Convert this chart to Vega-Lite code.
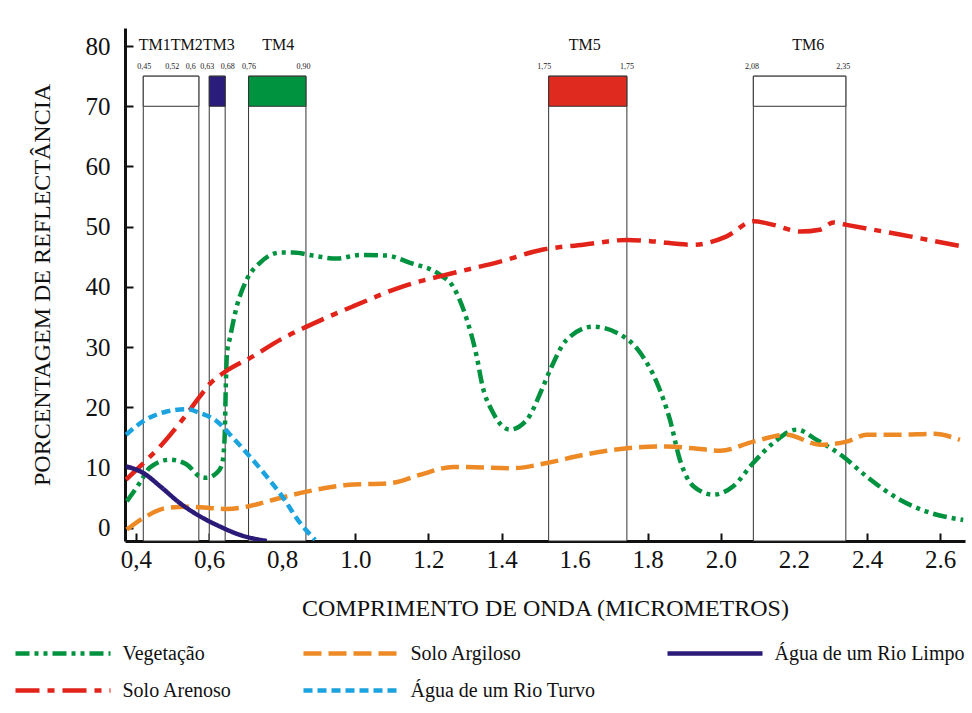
{
  "$schema": "https://vega.github.io/schema/vega-lite/v6.json",
  "width": 840,
  "height": 513,
  "autosize": {"type": "none"},
  "padding": {"left": 125, "top": 28, "right": 7, "bottom": 172},
  "background": "white",
  "config": {"view": {"stroke": null}, "font": "Liberation Serif"},
  "datasets": {
    "bands": [
      {"band": "TM1TM2", "start": 0.420, "end": 0.572, "top": 75, "split": 70},
      {"band": "TM3", "start": 0.6005, "end": 0.644, "top": 75, "split": 70},
      {"band": "TM4", "start": 0.708, "end": 0.865, "top": 75, "split": 70},
      {"band": "TM5", "start": 1.529, "end": 1.743, "top": 75, "split": 70},
      {"band": "TM6", "start": 2.089, "end": 2.342, "top": 75, "split": 70}
    ],
    "tmlabels": [
      {"x": 0.539, "y": 80.2, "label": "TM1TM2TM3"},
      {"x": 0.789, "y": 80.2, "label": "TM4"},
      {"x": 1.628, "y": 80.2, "label": "TM5"},
      {"x": 2.239, "y": 80.2, "label": "TM6"}
    ],
    "numlabels": [
      {"x": 0.423, "y": 76.5, "label": "0,45"},
      {"x": 0.499, "y": 76.5, "label": "0,52"},
      {"x": 0.550, "y": 76.5, "label": "0,6"},
      {"x": 0.595, "y": 76.5, "label": "0,63"},
      {"x": 0.651, "y": 76.5, "label": "0,68"},
      {"x": 0.709, "y": 76.5, "label": "0,76"},
      {"x": 0.858, "y": 76.5, "label": "0,90"},
      {"x": 1.517, "y": 76.5, "label": "1,75"},
      {"x": 1.743, "y": 76.5, "label": "1,75"},
      {"x": 2.085, "y": 76.5, "label": "2,08"},
      {"x": 2.335, "y": 76.5, "label": "2,35"}
    ],
    "curves": [
      {"series": "Vegetação", "x": 0.375, "y": 4.4},
      {"series": "Vegetação", "x": 0.411, "y": 7.5},
      {"series": "Vegetação", "x": 0.438, "y": 10.0},
      {"series": "Vegetação", "x": 0.493, "y": 11.3},
      {"series": "Vegetação", "x": 0.539, "y": 10.5},
      {"series": "Vegetação", "x": 0.575, "y": 8.5},
      {"series": "Vegetação", "x": 0.593, "y": 8.3},
      {"series": "Vegetação", "x": 0.621, "y": 9.1},
      {"series": "Vegetação", "x": 0.634, "y": 10.3},
      {"series": "Vegetação", "x": 0.640, "y": 12.5},
      {"series": "Vegetação", "x": 0.643, "y": 15.7},
      {"series": "Vegetação", "x": 0.646, "y": 24.1},
      {"series": "Vegetação", "x": 0.649, "y": 29.0},
      {"series": "Vegetação", "x": 0.657, "y": 31.5},
      {"series": "Vegetação", "x": 0.676, "y": 36.8},
      {"series": "Vegetação", "x": 0.703, "y": 41.2},
      {"series": "Vegetação", "x": 0.739, "y": 44.0},
      {"series": "Vegetação", "x": 0.794, "y": 45.7},
      {"series": "Vegetação", "x": 0.830, "y": 45.7},
      {"series": "Vegetação", "x": 0.884, "y": 45.2},
      {"series": "Vegetação", "x": 0.949, "y": 44.7},
      {"series": "Vegetação", "x": 1.013, "y": 45.3},
      {"series": "Vegetação", "x": 1.086, "y": 45.2},
      {"series": "Vegetação", "x": 1.150, "y": 44.0},
      {"series": "Vegetação", "x": 1.232, "y": 42.0},
      {"series": "Vegetação", "x": 1.267, "y": 40.1},
      {"series": "Vegetação", "x": 1.305, "y": 34.6},
      {"series": "Vegetação", "x": 1.332, "y": 28.5},
      {"series": "Vegetação", "x": 1.347, "y": 23.8},
      {"series": "Vegetação", "x": 1.377, "y": 19.1},
      {"series": "Vegetação", "x": 1.423, "y": 16.3},
      {"series": "Vegetação", "x": 1.469, "y": 17.9},
      {"series": "Vegetação", "x": 1.514, "y": 23.5},
      {"series": "Vegetação", "x": 1.533, "y": 26.2},
      {"series": "Vegetação", "x": 1.578, "y": 31.2},
      {"series": "Vegetação", "x": 1.651, "y": 33.4},
      {"series": "Vegetação", "x": 1.715, "y": 32.4},
      {"series": "Vegetação", "x": 1.779, "y": 29.1},
      {"series": "Vegetação", "x": 1.825, "y": 24.1},
      {"series": "Vegetação", "x": 1.861, "y": 17.9},
      {"series": "Vegetação", "x": 1.888, "y": 11.3},
      {"series": "Vegetação", "x": 1.925, "y": 6.9},
      {"series": "Vegetação", "x": 1.979, "y": 5.5},
      {"series": "Vegetação", "x": 2.034, "y": 6.9},
      {"series": "Vegetação", "x": 2.089, "y": 10.8},
      {"series": "Vegetação", "x": 2.144, "y": 14.1},
      {"series": "Vegetação", "x": 2.208, "y": 16.3},
      {"series": "Vegetação", "x": 2.262, "y": 14.6},
      {"series": "Vegetação", "x": 2.335, "y": 11.8},
      {"series": "Vegetação", "x": 2.399, "y": 8.5},
      {"series": "Vegetação", "x": 2.490, "y": 4.65},
      {"series": "Vegetação", "x": 2.572, "y": 2.5},
      {"series": "Vegetação", "x": 2.663, "y": 1.3},

      {"series": "Solo Arenoso", "x": 0.373, "y": 8.0},
      {"series": "Solo Arenoso", "x": 0.411, "y": 10.2},
      {"series": "Solo Arenoso", "x": 0.466, "y": 13.5},
      {"series": "Solo Arenoso", "x": 0.520, "y": 17.4},
      {"series": "Solo Arenoso", "x": 0.575, "y": 21.8},
      {"series": "Solo Arenoso", "x": 0.602, "y": 23.9},
      {"series": "Solo Arenoso", "x": 0.639, "y": 25.7},
      {"series": "Solo Arenoso", "x": 0.721, "y": 28.5},
      {"series": "Solo Arenoso", "x": 0.794, "y": 31.2},
      {"series": "Solo Arenoso", "x": 0.867, "y": 33.4},
      {"series": "Solo Arenoso", "x": 0.995, "y": 36.8},
      {"series": "Solo Arenoso", "x": 1.131, "y": 40.1},
      {"series": "Solo Arenoso", "x": 1.268, "y": 42.3},
      {"series": "Solo Arenoso", "x": 1.396, "y": 44.2},
      {"series": "Solo Arenoso", "x": 1.514, "y": 46.2},
      {"series": "Solo Arenoso", "x": 1.624, "y": 47.0},
      {"series": "Solo Arenoso", "x": 1.743, "y": 47.8},
      {"series": "Solo Arenoso", "x": 1.806, "y": 47.6},
      {"series": "Solo Arenoso", "x": 1.925, "y": 47.0},
      {"series": "Solo Arenoso", "x": 2.016, "y": 48.4},
      {"series": "Solo Arenoso", "x": 2.089, "y": 50.9},
      {"series": "Solo Arenoso", "x": 2.144, "y": 50.3},
      {"series": "Solo Arenoso", "x": 2.217, "y": 49.2},
      {"series": "Solo Arenoso", "x": 2.271, "y": 49.5},
      {"series": "Solo Arenoso", "x": 2.308, "y": 50.7},
      {"series": "Solo Arenoso", "x": 2.344, "y": 50.3},
      {"series": "Solo Arenoso", "x": 2.490, "y": 48.7},
      {"series": "Solo Arenoso", "x": 2.663, "y": 46.7},

      {"series": "Solo Argiloso", "x": 0.375, "y": -0.3},
      {"series": "Solo Argiloso", "x": 0.420, "y": 1.6},
      {"series": "Solo Argiloso", "x": 0.484, "y": 3.3},
      {"series": "Solo Argiloso", "x": 0.539, "y": 3.5},
      {"series": "Solo Argiloso", "x": 0.602, "y": 3.3},
      {"series": "Solo Argiloso", "x": 0.648, "y": 3.1},
      {"series": "Solo Argiloso", "x": 0.703, "y": 3.5},
      {"series": "Solo Argiloso", "x": 0.776, "y": 4.65},
      {"series": "Solo Argiloso", "x": 0.867, "y": 6.0},
      {"series": "Solo Argiloso", "x": 0.976, "y": 7.1},
      {"series": "Solo Argiloso", "x": 1.095, "y": 7.4},
      {"series": "Solo Argiloso", "x": 1.177, "y": 8.8},
      {"series": "Solo Argiloso", "x": 1.268, "y": 10.1},
      {"series": "Solo Argiloso", "x": 1.432, "y": 9.9},
      {"series": "Solo Argiloso", "x": 1.524, "y": 10.75},
      {"series": "Solo Argiloso", "x": 1.624, "y": 12.1},
      {"series": "Solo Argiloso", "x": 1.743, "y": 13.2},
      {"series": "Solo Argiloso", "x": 1.852, "y": 13.5},
      {"series": "Solo Argiloso", "x": 1.925, "y": 13.2},
      {"series": "Solo Argiloso", "x": 1.998, "y": 12.8},
      {"series": "Solo Argiloso", "x": 2.089, "y": 14.3},
      {"series": "Solo Argiloso", "x": 2.180, "y": 15.45},
      {"series": "Solo Argiloso", "x": 2.271, "y": 13.8},
      {"series": "Solo Argiloso", "x": 2.344, "y": 14.3},
      {"series": "Solo Argiloso", "x": 2.399, "y": 15.45},
      {"series": "Solo Argiloso", "x": 2.490, "y": 15.45},
      {"series": "Solo Argiloso", "x": 2.581, "y": 15.6},
      {"series": "Solo Argiloso", "x": 2.654, "y": 14.6},

      {"series": "Água de um Rio Turvo", "x": 0.373, "y": 15.45},
      {"series": "Água de um Rio Turvo", "x": 0.420, "y": 17.7},
      {"series": "Água de um Rio Turvo", "x": 0.484, "y": 19.3},
      {"series": "Água de um Rio Turvo", "x": 0.539, "y": 19.7},
      {"series": "Água de um Rio Turvo", "x": 0.575, "y": 19.05},
      {"series": "Água de um Rio Turvo", "x": 0.621, "y": 17.7},
      {"series": "Água de um Rio Turvo", "x": 0.666, "y": 14.9},
      {"series": "Água de um Rio Turvo", "x": 0.712, "y": 11.8},
      {"series": "Água de um Rio Turvo", "x": 0.758, "y": 8.5},
      {"series": "Água de um Rio Turvo", "x": 0.799, "y": 5.3},
      {"series": "Água de um Rio Turvo", "x": 0.849, "y": 0.8},
      {"series": "Água de um Rio Turvo", "x": 0.890, "y": -2.0},

      {"series": "Água de um Rio Limpo", "x": 0.373, "y": 10.2},
      {"series": "Água de um Rio Limpo", "x": 0.420, "y": 9.1},
      {"series": "Água de um Rio Limpo", "x": 0.466, "y": 6.9},
      {"series": "Água de um Rio Limpo", "x": 0.520, "y": 4.1},
      {"series": "Água de um Rio Limpo", "x": 0.575, "y": 1.9},
      {"series": "Água de um Rio Limpo", "x": 0.630, "y": 0.2},
      {"series": "Água de um Rio Limpo", "x": 0.685, "y": -1.2},
      {"series": "Água de um Rio Limpo", "x": 0.758, "y": -2.2}
    ]
  },
  "layer": [
    {
      "data": {"name": "bands"},
      "mark": {"type": "rect", "fill": "white", "stroke": "#333333", "strokeWidth": 1},
      "encoding": {
        "x": {"field": "start", "type": "quantitative", "scale": {"domain": [0.37, 2.668], "nice": false, "zero": false}},
        "x2": {"field": "end"},
        "y": {"field": "top", "type": "quantitative", "scale": {"domain": [-2.2, 83], "nice": false, "zero": false}},
        "y2": {"datum": -2.2}
      }
    },
    {
      "data": {"name": "bands"},
      "mark": {"type": "rect", "stroke": "#333333", "strokeWidth": 1},
      "encoding": {
        "x": {"field": "start", "type": "quantitative"},
        "x2": {"field": "end"},
        "y": {"field": "top", "type": "quantitative"},
        "y2": {"field": "split"},
        "fill": {"field": "band", "type": "nominal", "scale": {"domain": ["TM1TM2", "TM3", "TM4", "TM5", "TM6"], "range": ["#ffffff", "#2a1c7a", "#00933f", "#de2a1f", "#ffffff"]}, "legend": null}
      }
    },
    {
      "data": {"name": "curves"},
      "mark": {"type": "line", "interpolate": "monotone", "strokeWidth": 4.5, "clip": true},
      "encoding": {
        "x": {
          "field": "x", "type": "quantitative",
          "axis": {
            "values": [0.4, 0.6, 0.8, 1.0, 1.2, 1.4, 1.6, 1.8, 2.0, 2.2, 2.4, 2.6],
            "labelExpr": "datum.value < 0.9 ? replace(format(datum.value, '.1f'), '.', ',') : format(datum.value, '.1f')",
            "title": "COMPRIMENTO DE ONDA (MICROMETROS)",
            "grid": false, "domainColor": "#111111", "domainWidth": 3,
            "tickColor": "#111111", "tickWidth": 2, "tickSize": -8,
            "labelFont": "Liberation Serif", "labelFontSize": 25, "labelColor": "#111111", "labelPadding": 14,
            "labelFlush": false, "labelOverlap": false,
            "titleFont": "Liberation Serif", "titleFontSize": 24, "titleFontWeight": "normal", "titleColor": "#111111", "titlePadding": 24
          }
        },
        "y": {
          "field": "y", "type": "quantitative",
          "axis": {
            "values": [0, 10, 20, 30, 40, 50, 60, 70, 80],
            "title": "PORCENTAGEM DE REFLECTÂNCIA",
            "grid": false, "domainColor": "#111111", "domainWidth": 3,
            "tickColor": "#111111", "tickWidth": 2, "tickSize": -8,
            "labelFont": "Liberation Serif", "labelFontSize": 25, "labelColor": "#111111", "labelPadding": 23,
            "labelFlush": false, "labelOverlap": false,
            "titleFont": "Liberation Serif", "titleFontSize": 24, "titleFontWeight": "normal", "titleColor": "#111111", "titlePadding": 31
          }
        },
        "color": {
          "field": "series", "type": "nominal",
          "scale": {
            "domain": ["Vegetação", "Solo Argiloso", "Água de um Rio Limpo", "Solo Arenoso", "Água de um Rio Turvo"],
            "range": ["#00923f", "#ee8a25", "#2b1a78", "#e2231a", "#1ba3e0"]
          },
          "legend": {
            "title": null, "orient": "none", "direction": "horizontal", "legendX": -74, "legendY": 613.5, "columns": 3,
            "symbolType": "M-5,0L5,0", "symbolSize": 361, "symbolStrokeWidth": 4.5,
            "labelOffset": 47.5, "labelFont": "Liberation Serif", "labelFontSize": 20, "labelColor": "#111111",
            "labelLimit": 400, "rowPadding": 15, "columnPadding": 62, "padding": 0
          }
        },
        "strokeDash": {
          "field": "series", "type": "nominal",
          "scale": {
            "domain": ["Vegetação", "Solo Argiloso", "Água de um Rio Limpo", "Solo Arenoso", "Água de um Rio Turvo"],
            "range": [[14, 5, 4, 5, 4, 5], [18, 7], [1, 0], [24, 8, 7, 8], [9, 5]]
          },
          "legend": {
            "title": null, "orient": "none", "direction": "horizontal", "legendX": -74, "legendY": 613.5, "columns": 3,
            "symbolType": "M-5,0L5,0", "symbolSize": 361, "symbolStrokeWidth": 4.5,
            "labelOffset": 47.5, "labelFont": "Liberation Serif", "labelFontSize": 20, "labelColor": "#111111",
            "labelLimit": 400, "rowPadding": 15, "columnPadding": 62, "padding": 0
          }
        }
      }
    },
    {
      "data": {"name": "tmlabels"},
      "mark": {"type": "text", "font": "Liberation Serif", "fontSize": 16, "color": "#111111", "baseline": "middle", "align": "center"},
      "encoding": {
        "x": {"field": "x", "type": "quantitative"},
        "y": {"field": "y", "type": "quantitative"},
        "text": {"field": "label"}
      }
    },
    {
      "data": {"name": "numlabels"},
      "mark": {"type": "text", "font": "Liberation Serif", "fontSize": 8, "color": "#222222", "baseline": "middle", "align": "center"},
      "encoding": {
        "x": {"field": "x", "type": "quantitative"},
        "y": {"field": "y", "type": "quantitative"},
        "text": {"field": "label"}
      }
    }
  ]
}
